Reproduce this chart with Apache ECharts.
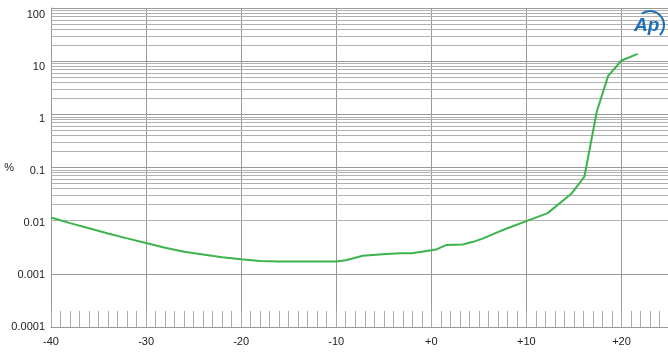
<!DOCTYPE html>
<html><head><meta charset="utf-8">
<script src="https://cdn.jsdelivr.net/npm/echarts@6/dist/echarts.min.js"></script>
<style>html,body{margin:0;padding:0;background:#fff}#c{width:668px;height:352px}</style>
</head><body><div id="c"></div>
<script>
const xValues = [-40,-38,-36,-34,-32,-30,-28,-26,-24,-22,-20,-18,-16,-14,-12,-10,-9,-7.2,-5.1,-3.3,-2.1,-0.5,0.5,1.6,3.3,4.4,5.4,6.8,8,10,11.4,12.2,14.7,16.1,17.4,18.6,20,21.7];
const yValues = [0.0115,0.0090,0.0072,0.00575,0.00464,0.0038,0.0031,0.0026,0.0023,0.00206,0.00189,0.00174,0.0017,0.0017,0.0017,0.0017,0.0018,0.00218,0.00234,0.00245,0.00245,0.0027,0.00286,0.0035,0.00357,0.0040,0.0046,0.0059,0.0072,0.0098,0.0122,0.0137,0.0317,0.067,1.12,5.3,10.3,13.7];
const xTickLabels = ['-40','-30','-20','-10','+0','+10','+20'];
const yTickLabels = ['0.0001','0.001','0.01','0.1','1','10','100'];
const gridDecades = [0.0001,0.001,0.01,0.1,1,10];
const gridMultipliers = [2,3,4,5,6,7,8,9];

const minorGrid = [];
gridDecades.forEach(d => gridMultipliers.forEach(m => minorGrid.push(+(d*m).toPrecision(3))));

const chart = echarts.init(document.getElementById('c'), null, {renderer:'canvas'});
const FONT = '"Liberation Sans", Arial, sans-serif';
const yLabelFmt = v => {
  const l = Math.log10(v), r = Math.round(l);
  if (Math.abs(l - r) > 0.01) return '';
  const i = r + 4;
  return (i >= 0 && i < yTickLabels.length) ? yTickLabels[i] : '';
};
chart.setOption({
  animation: false,
  backgroundColor: '#fff',
  grid: {left: 51, right: -1, top: 8, bottom: 25, containLabel: false, outerBoundsMode: 'none'},
  xAxis: [{
    type: 'value', min: -40, max: 25, interval: 10, position: 'bottom',
    axisLine: {show: true, onZero: false, lineStyle: {color: '#999', width: 1}},
    axisTick: {show: false},
    splitLine: {show: true, lineStyle: {color: '#999', width: 1}},
    axisLabel: {showMaxLabel: false, color: '#222', fontSize: 11, fontFamily: FONT, margin: 9,
      formatter: v => { const i = Math.round((v + 40) / 10); return (i >= 0 && i < xTickLabels.length) ? xTickLabels[i] : ''; }}
  }, {
    type: 'value', min: -40, max: 25, interval: 1, position: 'bottom',
    axisLine: {show: false, onZero: false},
    axisTick: {show: true, inside: true, length: 16, lineStyle: {color: '#aaa', width: 1}},
    splitLine: {show: false},
    axisLabel: {show: false}
  }],
  yAxis: [{
    type: 'log', logBase: 10, min: 0.0001, max: 100, splitNumber: 6, position: 'left',
    name: '%', nameLocation: 'middle', nameGap: 37, nameRotate: 0,
    nameTextStyle: {color: '#222', fontSize: 11, fontFamily: FONT, padding: [6, 0, 0, 0]},
    axisLine: {show: true, onZero: false, lineStyle: {color: '#999', width: 1}},
    axisTick: {show: false},
    splitLine: {show: true, lineStyle: {color: '#999', width: 1}},
    axisLabel: {show: false}
  }, {
    type: 'log', logBase: 10, min: 0.0001, max: 133.7, splitNumber: 6, position: 'left',
    axisLine: {show: false, onZero: false},
    axisTick: {show: false},
    splitLine: {show: false},
    axisLabel: {color: '#222', fontSize: 11, fontFamily: FONT, margin: 6, showMaxLabel: true, formatter: yLabelFmt}
  }],
  series: [{
    type: 'line', xAxisIndex: 0, yAxisIndex: 0,
    data: xValues.map((x, i) => [x, yValues[i]]),
    symbol: 'none', showSymbol: false, smooth: false, z: 3,
    lineStyle: {color: '#3cb44b', width: 2},
    markLine: {
      silent: true, symbol: 'none', z: 1, animation: false,
      label: {show: false},
      emphasis: {disabled: true},
      lineStyle: {color: '#b0b0b0', width: 1, type: 'solid'},
      data: minorGrid.map(v => ({yAxis: v}))
    }
  }],
  graphic: [
    {type: 'text', left: 634, top: 16, z: 10,
      style: {text: 'Ap', font: 'italic bold 19px "Liberation Sans", Arial, sans-serif', fill: '#1f6fb8'}},
    {type: 'arc', z: 10, shape: {cx: 650, cy: 25, r: 14, startAngle: -2.2, endAngle: 0.8},
      style: {stroke: '#1f6fb8', lineWidth: 2, fill: null}}
  ]
});
</script></body></html>
